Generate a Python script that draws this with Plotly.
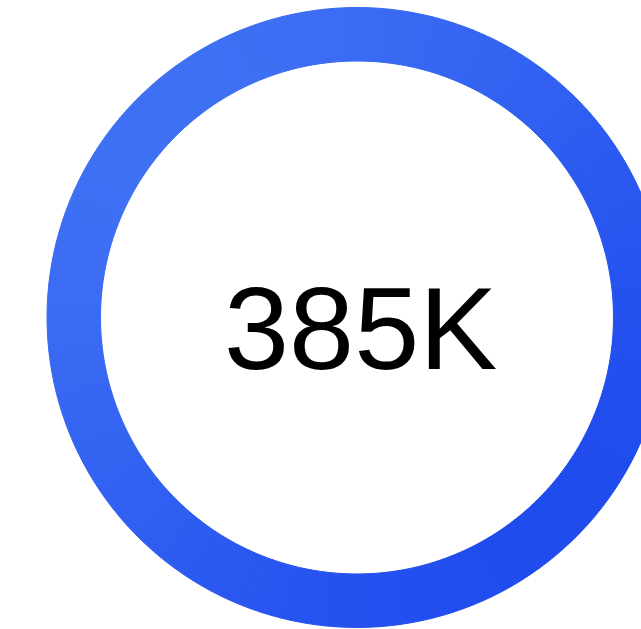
import numpy as np
import plotly.graph_objects as go

# ---- data ----
metric_values = [385000]
metric_labels = ["385K"]
ring_fraction = [1.0]  # share of the ring that is filled

# ---- style ----
W, H = 641, 629
CX, CY = 357.0, 317.5
R_OUT, R_IN = 310.0, 256.5
C_START = np.array([64, 114, 244])   # top-left
C_END = np.array([30, 74, 237])      # bottom-right
N_SEG = 180

fig = go.Figure()

span = 2 * np.pi * ring_fraction[0]
edges = np.linspace(0, span, N_SEG + 1)
for i in range(N_SEG):
    a0, a1 = edges[i], edges[i + 1]
    ang = np.linspace(a0, a1, 4)
    # angle measured clockwise from top (screen coords, y down)
    xo = CX + R_OUT * np.sin(ang)
    yo = CY - R_OUT * np.cos(ang)
    xi = CX + R_IN * np.sin(ang[::-1])
    yi = CY - R_IN * np.cos(ang[::-1])
    xs = np.concatenate([xo, xi, xo[:1]])
    ys = np.concatenate([yo, yi, yo[:1]])
    am = 0.5 * (a0 + a1)
    rm = 0.5 * (R_OUT + R_IN)
    dx, dy = rm * np.sin(am), -rm * np.cos(am)
    t = 0.5 + (dx + dy) / (2 * np.sqrt(2) * R_OUT)
    t = min(max(t, 0), 1)
    c = (C_START + (C_END - C_START) * t).round().astype(int)
    col = f"rgb({c[0]},{c[1]},{c[2]})"
    fig.add_trace(go.Scatter(
        x=xs, y=ys, mode="lines", fill="toself", fillcolor=col,
        line=dict(color=col, width=1), hoverinfo="skip", showlegend=False,
    ))

fig.add_annotation(
    x=360, y=328, xref="x", yref="y", text=metric_labels[0],
    showarrow=False, xanchor="center", yanchor="middle",
    font=dict(family="Liberation Sans, Arial, sans-serif", size=117, color="#000000"),
)

fig.update_layout(
    width=W, height=H, margin=dict(l=0, r=0, t=0, b=0),
    paper_bgcolor="#ffffff", plot_bgcolor="#ffffff",
    xaxis=dict(range=[0, W], visible=False, fixedrange=True),
    yaxis=dict(range=[H, 0], visible=False, fixedrange=True),
    showlegend=False,
)

fig.write_html("out.html", config={"displayModeBar": False})
